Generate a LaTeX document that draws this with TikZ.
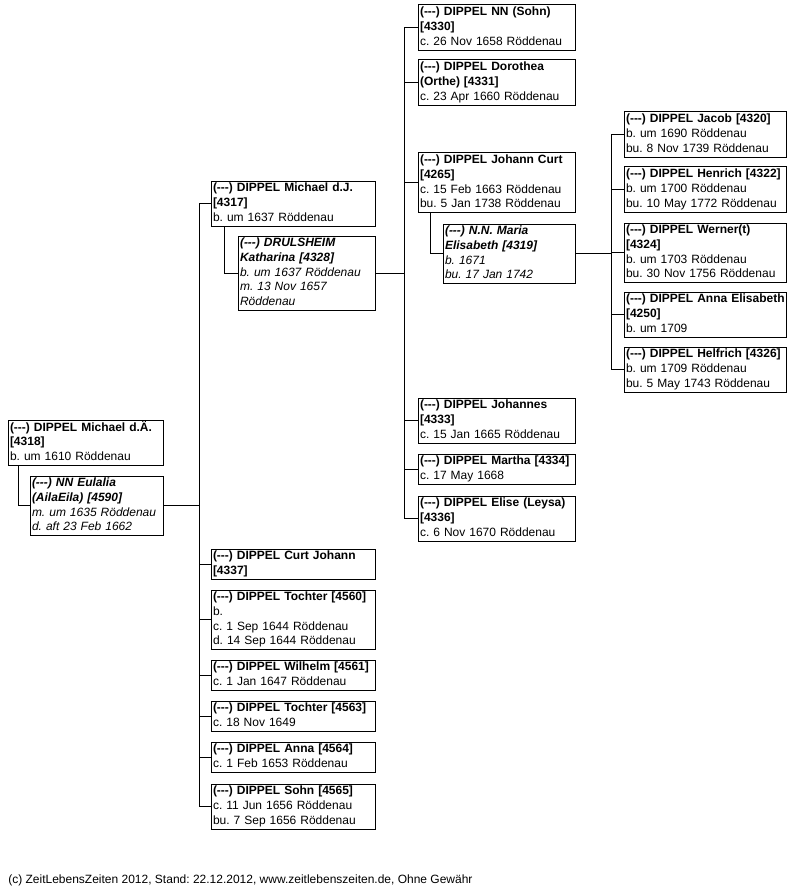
\documentclass[tikz,border=0pt]{standalone}
\usepackage{fontspec}
\setmainfont{Liberation Sans}
\usetikzlibrary{calc}
\frenchspacing
\hyphenpenalty=10000

\newcommand{\unkn}{(-\kern0pt-\kern0pt-)}

\tikzset{
  person/.style={draw, line width=0.75pt, anchor=north west, align=left,
    inner xsep=1.5pt, inner ysep=0.6pt, outer sep=0pt, text width=#1,
    font=\fontsize{9}{10.9}\selectfont,
    execute at begin node=\strut, execute at end node=\strut},
  spouse/.style={person=#1, font=\fontsize{9}{10.9}\selectfont\itshape},
  link/.style={line width=0.75pt},
}

\begin{document}
\begin{tikzpicture}[x=0.75pt, y=-0.75pt]
\path[fill=white, use as bounding box] (0,0) rectangle (805,888);

% root couple
\node[person=113.25pt] (m4318) at (8,420) {\textbf{\unkn{} DIPPEL Michael d.Ä.}\\\textbf{[4318]}\\b. um 1610 Röddenau};
\node[spouse=96.75pt] (s4590) at (30,476) {\textbf{\unkn{} NN Eulalia}\\\textbf{(AilaEila) [4590]}\\m. um 1635 Röddenau\\d. aft 23 Feb 1662};

% children
\node[person=120pt] (c4317) at (211,181) {\textbf{\unkn{} DIPPEL Michael d.J.}\\\textbf{[4317]}\\b. um 1637 Röddenau};
\node[spouse=99.75pt] (s4328) at (238,236) {\textbf{\unkn{} DRULSHEIM}\\\textbf{Katharina [4328]}\\b. um 1637 Röddenau\\m. 13 Nov 1657\\Röddenau};
\node[person=120pt] (c4337) at (211,549) {\textbf{\unkn{} DIPPEL Curt Johann}\\\textbf{[4337]}};
\node[person=120pt] (c4560) at (211,590) {\textbf{\unkn{} DIPPEL Tochter [4560]}\\b.\\c. 1 Sep 1644 Röddenau\\d. 14 Sep 1644 Röddenau};
\node[person=120pt] (c4561) at (211,660) {\textbf{\unkn{} DIPPEL Wilhelm [4561]}\\c. 1 Jan 1647 Röddenau};
\node[person=120pt] (c4563) at (211,701) {\textbf{\unkn{} DIPPEL Tochter [4563]}\\c. 18 Nov 1649};
\node[person=120pt] (c4564) at (211,742) {\textbf{\unkn{} DIPPEL Anna [4564]}\\c. 1 Feb 1653 Röddenau};
\node[person=120pt] (c4565) at (211,784) {\textbf{\unkn{} DIPPEL Sohn [4565]}\\c. 11 Jun 1656 Röddenau\\bu. 7 Sep 1656 Röddenau};

% grandchildren
\node[person=114.75pt] (c4330) at (418,5) {\textbf{\unkn{} DIPPEL NN (Sohn)}\\\textbf{[4330]}\\c. 26 Nov 1658 Röddenau};
\node[person=114.75pt] (c4331) at (418,60) {\textbf{\unkn{} DIPPEL Dorothea}\\\textbf{(Orthe) [4331]}\\c. 23 Apr 1660 Röddenau};
\node[person=114.75pt] (c4265) at (418,153) {\textbf{\unkn{} DIPPEL Johann Curt}\\\textbf{[4265]}\\c. 15 Feb 1663 Röddenau\\bu. 5 Jan 1738 Röddenau};
\node[spouse=96pt] (s4319) at (443,224) {\textbf{\unkn{} N.N. Maria}\\\textbf{Elisabeth [4319]}\\b. 1671\\bu. 17 Jan 1742};
\node[person=114.75pt] (c4333) at (418,398) {\textbf{\unkn{} DIPPEL Johannes}\\\textbf{[4333]}\\c. 15 Jan 1665 Röddenau};
\node[person=114.75pt] (c4334) at (418,454) {\textbf{\unkn{} DIPPEL Martha [4334]}\\c. 17 May 1668};
\node[person=114.75pt] (c4336) at (418,496) {\textbf{\unkn{} DIPPEL Elise (Leysa)}\\\textbf{[4336]}\\c. 6 Nov 1670 Röddenau};

% great-grandchildren
\node[person=118.5pt] (c4320) at (624,112) {\textbf{\unkn{} DIPPEL Jacob [4320]}\\b. um 1690 Röddenau\\bu. 8 Nov 1739 Röddenau};
\node[person=118.5pt] (c4322) at (624,167) {\textbf{\unkn{} DIPPEL Henrich [4322]}\\b. um 1700 Röddenau\\bu. 10 May 1772 Röddenau};
\node[person=118.5pt] (c4324) at (624,223) {\textbf{\unkn{} DIPPEL Werner(t)}\\\textbf{[4324]}\\b. um 1703 Röddenau\\bu. 30 Nov 1756 Röddenau};
\node[person=118.5pt] (c4250) at (624,292) {\mbox{\textbf{\unkn{} DIPPEL Anna Elisabeth}}\\\textbf{[4250]}\\b. um 1709};
\node[person=118.5pt] (c4326) at (624,347) {\textbf{\unkn{} DIPPEL Helfrich [4326]}\\b. um 1709 Röddenau\\bu. 5 May 1743 Röddenau};

% marriage links
\draw[link] ($(m4318.south west)+(10,0)$) |- (s4590.west);
\draw[link] ($(c4317.south west)+(13,0)$) |- (s4328.west);
\draw[link] ($(c4265.south west)+(12,0)$) |- (s4319.west);

% child buses
\coordinate (bus1) at (199,0);
\coordinate (bus2) at (404,0);
\coordinate (bus3) at (611,0);
\draw[link] (s4590.east) -- (s4590.east -| bus1);
\draw[link] (c4317.west -| bus1) -- (c4565.west -| bus1);
\foreach \c in {c4317,c4337,c4560,c4561,c4563,c4564,c4565}
  \draw[link] (\c.west) -- (\c.west -| bus1);
\draw[link] (s4328.east) -- (s4328.east -| bus2);
\draw[link] (c4330.west -| bus2) -- (c4336.west -| bus2);
\foreach \c in {c4330,c4331,c4265,c4333,c4334,c4336}
  \draw[link] (\c.west) -- (\c.west -| bus2);
\draw[link] (s4319.east) -- (s4319.east -| bus3);
\draw[link] (c4320.west -| bus3) -- (c4326.west -| bus3);
\foreach \c in {c4320,c4322,c4324,c4250,c4326}
  \draw[link] (\c.west) -- (\c.west -| bus3);

\node[anchor=base west, inner sep=0pt, font=\fontsize{9}{10.9}\selectfont] (foot) at (8,883)
  {(c) ZeitLebensZeiten 2012, Stand: 22.12.2012, www.zeitlebenszeiten.de, Ohne Gewähr};
\end{tikzpicture}
\end{document}
